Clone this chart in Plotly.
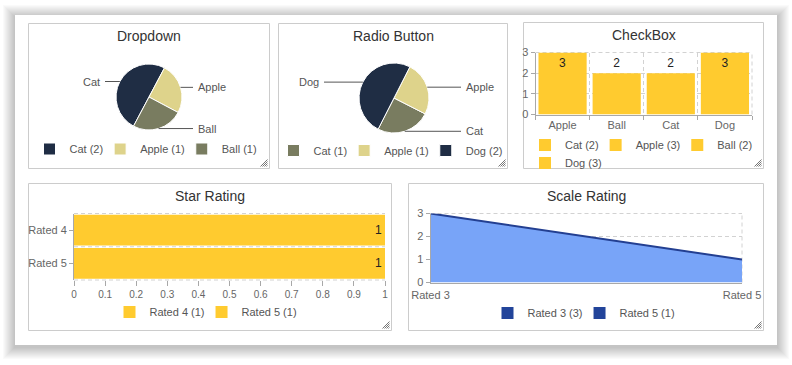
import math
import plotly.graph_objects as go

W, H = 792, 365

# ---------------- data ----------------
dropdown_labels = ["Cat", "Apple", "Ball"]
dropdown_counts = [2, 1, 1]
dropdown_colors = ["#1f2d44", "#ded38b", "#797c60"]

radio_labels = ["Cat", "Apple", "Dog"]
radio_counts = [1, 1, 2]
radio_colors = ["#797c60", "#ded38b", "#1f2d44"]

checkbox_labels = ["Cat", "Apple", "Ball", "Dog"]
checkbox_counts = [2, 3, 2, 3]
checkbox_axis_order = ["Apple", "Ball", "Cat", "Dog"]

star_labels = ["Rated 4", "Rated 5"]
star_counts = [1, 1]

scale_labels = ["Rated 3", "Rated 5"]
scale_counts = [3, 1]

GOLD = "#ffcb2f"
FONT = "Liberation Sans, Arial, sans-serif"
GRID = "#d2d2d2"
AXIS = "#a8a8a8"
DASH = "4px,3px"


def px(x):
    return x / W


def py(y):
    return 1 - y / H


shapes = []
annotations = []


def rect(x0, y0, x1, y1, **kw):
    shapes.append(dict(type="rect", xref="paper", yref="paper", x0=px(x0), x1=px(x1),
                       y0=py(y1), y1=py(y0), layer="below", **kw))


def line(x0, y0, x1, y1, layer="above", **kw):
    shapes.append(dict(type="line", xref="paper", yref="paper", x0=px(x0), y0=py(y0),
                       x1=px(x1), y1=py(y1), layer=layer, **kw))


# ---------------- card + shadow ----------------
for i in range(12, 0, -1):
    rect(15 - i, 15 - i + 2, 777 + i, 345 + i + 2,
         fillcolor="rgba(0,0,0,0.02)", line=dict(width=0))
rect(15, 15, 777, 345, fillcolor="white", line=dict(width=0))

panels = [
    (28.5, 23.5, 269.5, 168.5, "Dropdown"),
    (278.5, 23.5, 507.5, 168.5, "Radio Button"),
    (523.5, 22.5, 763.5, 168.5, "CheckBox"),
    (28.5, 183.5, 391.5, 330.5, "Star Rating"),
    (408.5, 183.5, 763.5, 330.5, "Scale Rating"),
]
for x0, y0, x1, y1, title in panels:
    rect(x0, y0, x1, y1, fillcolor="rgba(0,0,0,0)", line=dict(color="#cccccc", width=1))
    annotations.append(dict(text=title, x=px((x0 + x1) / 2), y=py(y0 + 12.5), xref="paper",
                            yref="paper", showarrow=False, xanchor="center", yanchor="middle",
                            font=dict(size=14, color="#333333", family=FONT)))
    # resize grip
    a, c = x1 - 9, y1 - 9
    for k in (0, 2, 4, 6):
        line(a + k, c + 7, a + 7, c + k, line=dict(color="#777777", width=1))

fig = go.Figure()

# ---------------- pies ----------------


def pie_mid_angles(values, rotation, direction):
    total = float(sum(values))
    f = 360.0 / total
    cur = rotation
    if direction == "counterclockwise":
        cur += f * values[0]
        f = -f
    mids = []
    for v in values:
        a0 = cur
        cur += f * v
        mids.append((a0 + cur) / 2)
    return mids


def add_pie(labels, counts, colors, rotation, direction, cx, cy, r, dxl, dxr, legend, tag):
    # tag: invisible zero-width suffix keeping legend entries of different pies independent
    fig.add_trace(go.Pie(
        labels=[f"{l} ({c}){tag}" for l, c in zip(labels, counts)],
        values=counts, sort=False, direction=direction, rotation=rotation,
        marker=dict(colors=colors, line=dict(color="white", width=1)),
        textinfo="none", hoverinfo="label+value",
        domain=dict(x=[px(cx - r), px(cx + r)], y=[py(cy + r), py(cy - r)]),
        legend=legend, showlegend=True,
    ))
    for lab, mid in zip(labels, pie_mid_angles(counts, rotation, direction)):
        ang = math.radians(mid)
        ex = cx + r * math.sin(ang)
        ey = cy - r * math.cos(ang)
        right = math.sin(ang) >= 0
        lx = cx + dxr if right else cx - dxl
        line(ex, ey, lx - 3 if right else lx + 3, ey, line=dict(color="#555555", width=1))
        annotations.append(dict(text=lab, x=px(lx), y=py(ey), xref="paper", yref="paper",
                                showarrow=False, xanchor="left" if right else "right",
                                yanchor="middle",
                                font=dict(size=11, color="#555555", family=FONT)))


add_pie(dropdown_labels, dropdown_counts, dropdown_colors, 208, "clockwise",
        149, 97, 33, 47, 47, "legend", "")
add_pie(radio_labels, radio_counts, radio_colors, 117, "counterclockwise",
        394, 98, 35, 73, 70, "legend2", "\u200b")

# ---------------- checkbox bars ----------------
cmax = max(checkbox_counts)
for i, (lab, cnt) in enumerate(zip(checkbox_labels, checkbox_counts)):
    fig.add_trace(go.Bar(
        x=[lab], y=[cnt], name=f"{lab} ({cnt})", marker=dict(color=GOLD, line=dict(width=0)),
        width=0.89, text=[cnt], textposition="inside" if cnt >= cmax else "outside",
        insidetextanchor="end", textfont=dict(size=12, color="#222222", family=FONT),
        cliponaxis=False, xaxis="x", yaxis="y",
        legend="legend3" if i < 3 else "legend4", showlegend=True,
    ))

# ---------------- star rating bars ----------------
for lab, cnt in zip(star_labels, star_counts):
    fig.add_trace(go.Bar(
        y=[lab], x=[cnt], orientation="h", name=f"{lab} ({cnt})",
        marker=dict(color=GOLD, line=dict(width=0)), width=0.93,
        text=[cnt], textposition="inside", insidetextanchor="end",
        textfont=dict(size=12, color="#222222", family=FONT),
        xaxis="x2", yaxis="y2", legend="legend5", showlegend=True,
    ))

# ---------------- scale rating area ----------------
fig.add_trace(go.Scatter(
    x=scale_labels, y=scale_counts, mode="lines", fill="tozeroy", fillcolor="#78a4f8",
    line=dict(color="#233f91", width=2), xaxis="x3", yaxis="y3", showlegend=False,
))
for lab, cnt in zip(scale_labels, scale_counts):
    fig.add_trace(go.Scatter(
        x=[None], y=[None], mode="markers", name=f"{lab} ({cnt})",
        marker=dict(symbol="square", size=12, color="#22449a"),
        xaxis="x3", yaxis="y3", legend="legend6", showlegend=True,
    ))

# dashed frame edges
for xr, yr in (("x", "y"), ("x3", "y3")):
    shapes.append(dict(type="line", xref=f"{xr} domain", yref=f"{yr} domain", x0=0, x1=1,
                       y0=1, y1=1, line=dict(color=GRID, width=1, dash=DASH), layer="below"))
    shapes.append(dict(type="line", xref=f"{xr} domain", yref=f"{yr} domain", x0=1, x1=1,
                       y0=0, y1=1, line=dict(color=GRID, width=1, dash=DASH), layer="below"))
for yv in (0, 0.5, 1):
    shapes.append(dict(type="line", xref="x2 domain", yref="y2 domain", x0=0, x1=1,
                       y0=yv, y1=yv, line=dict(color=GRID, width=1, dash=DASH), layer="above"))

tickfont = dict(size=11, color="#666666", family=FONT)
common = dict(showline=True, linecolor=AXIS, linewidth=1, ticks="outside", ticklen=4,
              tickcolor=AXIS, zeroline=False, tickfont=tickfont, fixedrange=True,
              automargin=False)


def legend_cfg(xc, yc, anchor="center"):
    return dict(x=px(xc), y=py(yc), xanchor=anchor, yanchor="middle", orientation="h",
                bgcolor="rgba(0,0,0,0)", borderwidth=0, indentation=-8,
                font=dict(size=11, color="#555555", family=FONT))


fig.update_layout(
    width=W, height=H, margin=dict(l=0, r=0, t=0, b=0, pad=0, autoexpand=False),
    paper_bgcolor="white", plot_bgcolor="rgba(0,0,0,0)",
    barmode="overlay", font=dict(family=FONT),
    xaxis=dict(domain=[px(535.5), px(752)], type="category", categoryorder="array",
               categoryarray=checkbox_axis_order, range=[-0.5, 3.5], tickson="boundaries",
               showgrid=True, gridcolor=GRID, griddash=DASH, anchor="y", **common),
    yaxis=dict(domain=[py(114.5), py(52.5)], range=[0, 3], dtick=1, showgrid=True,
               gridcolor=GRID, griddash=DASH, anchor="x", **common),
    xaxis2=dict(domain=[px(74), px(385)], range=[0, 1], dtick=0.1, showgrid=False,
                anchor="y2", **{**common, "showline": False, "ticklen": 5,
                                "tickfont": dict(size=10, color="#666666", family=FONT)}),
    yaxis2=dict(domain=[py(280), py(213.5)], type="category", categoryorder="array",
                categoryarray=star_labels, range=[1.5, -0.5], showgrid=False,
                anchor="x2", **common),
    xaxis3=dict(domain=[px(430.5), px(742)], type="category", categoryorder="array",
                categoryarray=scale_labels, range=[0, 1], showgrid=False, anchor="y3",
                ticklabelstandoff=2, **{**common, "ticks": ""}),
    yaxis3=dict(domain=[py(282.5), py(213.5)], range=[0, 3], dtick=1, showgrid=True,
                gridcolor=GRID, griddash=DASH, anchor="x3", **common),
    legend=legend_cfg(150, 149),
    legend2=legend_cfg(394.5, 150.5),
    legend3=legend_cfg(533, 145, "left"),
    legend4=legend_cfg(533, 163, "left"),
    legend5=legend_cfg(210, 312),
    legend6=legend_cfg(588, 313),
    shapes=shapes, annotations=annotations,
)

fig.write_html("out.html", config={"displayModeBar": False},
               post_script="document.body.style.margin='0';")
